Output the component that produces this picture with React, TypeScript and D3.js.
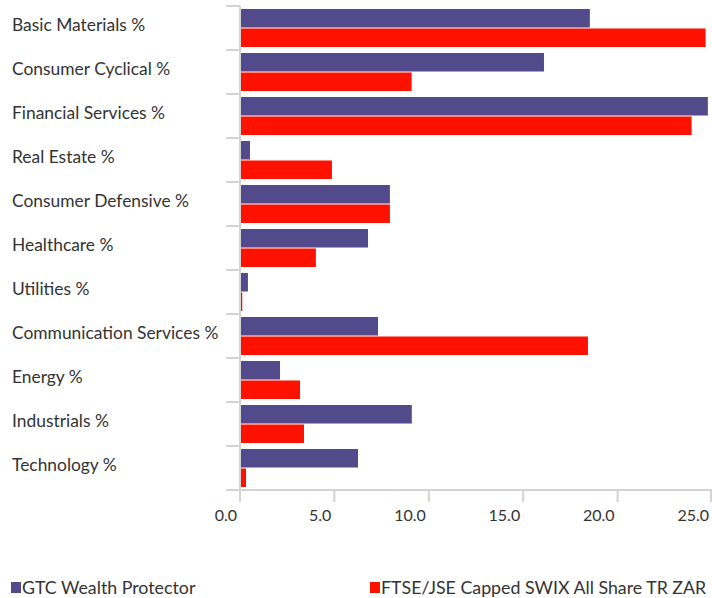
import React from "react";
import * as d3 from "d3";

const categories = [
  "Basic Materials %",
  "Consumer Cyclical %",
  "Financial Services %",
  "Real Estate %",
  "Consumer Defensive %",
  "Healthcare %",
  "Utilities %",
  "Communication Services %",
  "Energy %",
  "Industrials %",
  "Technology %",
];
const seriesNames = ["GTC Wealth Protector", "FTSE/JSE Capped SWIX All Share TR ZAR"];
const gtcValues = [18.53, 16.1, 24.78, 0.53, 7.94, 6.78, 0.42, 7.31, 2.12, 9.1, 6.25];
const ftseValues = [24.66, 9.09, 23.92, 4.87, 7.94, 4.02, 0.12, 18.43, 3.18, 3.39, 0.32];
const xTicks = [0, 5, 10, 15, 20, 25];
const colors = ["#524a8a", "#ff1100"];

const W = 712;
const H = 598;
const left = 240;
const right = 712;
const top = 6;
const bottom = 490;
const FONT = "Lato, 'Open Sans', sans-serif";

export default function App() {
  const x = d3.scaleLinear().domain([0, 25]).range([left, right]);
  const y = d3.scaleBand<string>().domain(categories).range([top, bottom]).paddingInner(0).paddingOuter(0);
  const inner = d3.scaleBand<string>().domain(seriesNames).range([3, 41]).paddingInner(0.05);
  const series = [gtcValues, ftseValues];
  const axisColor = "#d3d3d3";

  return (
    <svg width={W} height={H} style={{ position: "absolute", left: 0, top: 0, background: "#fff" }}>
      {categories.map((c, i) => (
        <g key={c} transform={`translate(0,${y(c)})`}>
          {series.map((vals, s) => (
            <rect
              key={s}
              x={x(0) + 1}
              y={inner(seriesNames[s])}
              width={Math.max(0, x(vals[i]) - x(0) - 1)}
              height={inner.bandwidth()}
              fill={colors[s]}
            />
          ))}
        </g>
      ))}
      <line x1={left} x2={left} y1={top} y2={bottom} stroke={axisColor} strokeWidth={2} />
      {categories.map((c) => (
        <line key={"t" + c} x1={left - 14} x2={left} y1={y(c)!} y2={y(c)!} stroke={axisColor} strokeWidth={2} />
      ))}
      {categories.map((c) => (
        <text
          key={"l" + c}
          x={12}
          y={y(c)! + y.bandwidth() / 2 + 3}
          fontFamily={FONT}
          fontSize={17.4}
          fill="#333"
        >
          {c}
        </text>
      ))}
      <line x1={left - 14} x2={right} y1={bottom} y2={bottom} stroke={axisColor} strokeWidth={2} />
      {xTicks.map((t) => (
        <g key={"x" + t}>
          <line x1={Math.min(x(t), right - 1)} x2={Math.min(x(t), right - 1)} y1={bottom} y2={bottom + 12} stroke={axisColor} strokeWidth={2} />
          <text
            x={Math.min(x(t) - 3, right - 2)}
            y={521}
            textAnchor="end"
            fontFamily={FONT}
            fontSize={16}
            fill="#333"
          >
            {d3.format(".1f")(t)}
          </text>
        </g>
      ))}
      {seriesNames.map((n, s) => {
        const lx = s === 0 ? 11 : 370;
        return (
          <g key={"lg" + n}>
            <rect x={lx} y={582} width={10} height={11} fill={colors[s]} />
            <text x={lx + 11} y={594} fontFamily={FONT} fontSize={17.8} fill="#333">
              {n}
            </text>
          </g>
        );
      })}
    </svg>
  );
}
